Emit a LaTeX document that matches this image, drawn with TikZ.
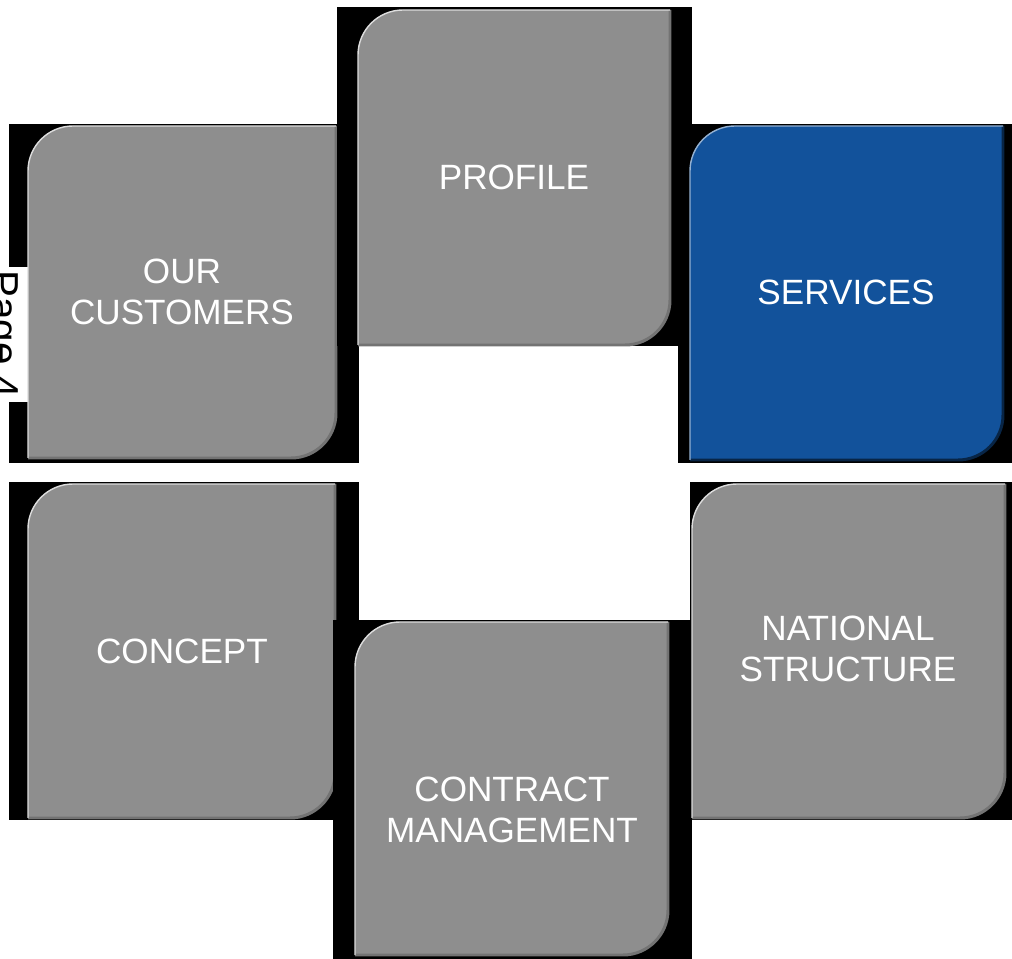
\documentclass[tikz,border=0pt]{standalone}
\usepackage{fontspec}
\setmainfont{Liberation Sans}
\usepackage{tikz}
\definecolor{tilegray}{HTML}{8E8E8E}
\definecolor{tileblue}{HTML}{12529B}
\definecolor{blobgray}{HTML}{E7E7E9}
\tikzset{
  tiletext/.style={text=white,align=center,inner sep=0,font=\fontsize{20}{23.5}\selectfont},
  backing/.style={fill=black},
  rim/.style={draw=black!55,line width=1.7pt},
  shine/.style={draw=white!70!tilegray,line width=0.8pt},
}

\begin{document}
\begin{tikzpicture}[x=0.02cm,y=0.02cm]
  \useasboundingbox (0,0) rectangle (1012,-959);
  % light shapes behind
  \fill[blobgray] (0,0) -- (73,0) .. controls (62,55) and (35,92) .. (0,110) -- cycle;
  \fill[blobgray] (463,0) -- (733,0) -- (690,48) -- (520,22) -- cycle;
  % our customers
  \fill[backing] (9,-124) rectangle (359,-463);
  \fill[white] (0,-267) rectangle (30,-402);
  \node[rotate=-90,anchor=base west,inner sep=0,font=\fontsize{23}{27}\selectfont] (pg) at (-10,-270) {Page 4};
  \fill[tilegray] (28,-171) arc (180:90:45) -- (336,-126) -- (336,-413) arc (0:-90:45) -- (28,-458) -- cycle;
  \draw[rim] (336,-126) -- (336,-413) arc (0:-90:45) -- (28,-458);
  \draw[shine] (28,-458) -- (28,-171) arc (180:90:45) -- (336,-126);
  \node[tiletext] (cust) at (182,-292) {OUR\\CUSTOMERS};
  % profile
  \fill[backing] (337,-7) rectangle (692,-346);
  \fill[tilegray] (358,-55) arc (180:90:45) -- (670,-10) -- (670,-300) arc (0:-90:45) -- (358,-345) -- cycle;
  \draw[rim] (670,-10) -- (670,-300) arc (0:-90:45) -- (358,-345);
  \draw[shine] (358,-345) -- (358,-55) arc (180:90:45) -- (670,-10);
  \node[tiletext] (prof) at (514,-177) {PROFILE};
  % services
  \fill[backing] (678,-124) rectangle (1012,-463);
  \fill[tileblue] (690,-171) arc (180:90:45) -- (1003,-126) -- (1003,-415) arc (0:-90:45) -- (690,-460) -- cycle;
  \draw[rim,draw=tileblue!45!black] (1003,-126) -- (1003,-415) arc (0:-90:45) -- (690,-460);
  \draw[shine,draw=white!55!tileblue] (690,-460) -- (690,-171) arc (180:90:45) -- (1003,-126);
  \node[tiletext] (serv) at (846,-292) {SERVICES};
  % concept
  \fill[backing] (9,-482) rectangle (359,-820);
  \fill[tilegray] (28,-529) arc (180:90:45) -- (335,-484) -- (335,-773) arc (0:-90:45) -- (28,-818) -- cycle;
  \draw[rim] (335,-484) -- (335,-773) arc (0:-90:45) -- (28,-818);
  \draw[shine] (28,-818) -- (28,-529) arc (180:90:45) -- (335,-484);
  \node[tiletext] (conc) at (182,-651) {CONCEPT};
  % contract management
  \fill[backing] (333,-620) rectangle (692,-959);
  \fill[tilegray] (355,-667) arc (180:90:45) -- (668,-622) -- (668,-910) arc (0:-90:45) -- (355,-955) -- cycle;
  \draw[rim] (668,-622) -- (668,-910) arc (0:-90:45) -- (355,-955);
  \draw[shine] (355,-955) -- (355,-667) arc (180:90:45) -- (668,-622);
  \node[tiletext] (contr) at (512,-810) {CONTRACT\\MANAGEMENT};
  % national structure
  \fill[backing] (690,-482) rectangle (1012,-820);
  \fill[tilegray] (692,-529) arc (180:90:45) -- (1005,-484) -- (1005,-773) arc (0:-90:45) -- (692,-818) -- cycle;
  \draw[rim] (1005,-484) -- (1005,-773) arc (0:-90:45) -- (692,-818);
  \draw[shine] (692,-818) -- (692,-529) arc (180:90:45) -- (1005,-484);
  \node[tiletext] (natl) at (848,-649) {NATIONAL\\STRUCTURE};
\end{tikzpicture}
\end{document}
